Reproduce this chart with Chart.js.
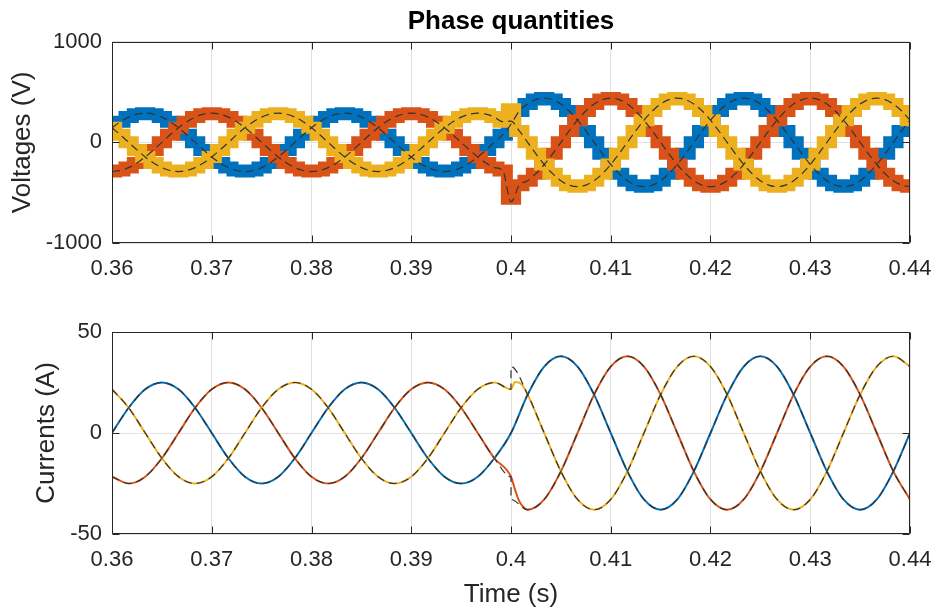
<!DOCTYPE html>
<html>
<head>
<meta charset="utf-8">
<title>Phase quantities</title>
<script src="https://cdn.jsdelivr.net/npm/chart.js@4.4.1/dist/chart.umd.min.js"></script>
<style>
  body { margin: 0; background: #fff; }
  #wrap { position: relative; width: 936px; height: 615px; }
  canvas { position: absolute; left: 0; }
  #voltChart { top: 0; }
  #currChart { top: 290px; }
</style>
</head>
<body>
<div id="wrap">
  <canvas id="voltChart" width="936" height="290"></canvas>
  <canvas id="currChart" width="936" height="325"></canvas>
</div>
<script>
// sample times for the voltages (s), 15 deg steps of the 50 Hz wave
const tV = [
  0.36, 0.36083, 0.36167, 0.3625, 0.36333, 0.36417, 0.365, 0.36583, 0.36667, 0.3675, 0.36833, 0.36917,
  0.37, 0.37083, 0.37167, 0.3725, 0.37333, 0.37417, 0.375, 0.37583, 0.37667, 0.3775, 0.37833, 0.37917,
  0.38, 0.38083, 0.38167, 0.3825, 0.38333, 0.38417, 0.385, 0.38583, 0.38667, 0.3875, 0.38833, 0.38917,
  0.39, 0.39083, 0.39167, 0.3925, 0.39333, 0.39417, 0.395, 0.39583, 0.39667, 0.3975, 0.39833, 0.39917,
  0.4, 0.40083, 0.40167, 0.4025, 0.40333, 0.40417, 0.405, 0.40583, 0.40667, 0.4075, 0.40833, 0.40917,
  0.41, 0.41083, 0.41167, 0.4125, 0.41333, 0.41417, 0.415, 0.41583, 0.41667, 0.4175, 0.41833, 0.41917,
  0.42, 0.42083, 0.42167, 0.4225, 0.42333, 0.42417, 0.425, 0.42583, 0.42667, 0.4275, 0.42833, 0.42917,
  0.43, 0.43083, 0.43167, 0.4325, 0.43333, 0.43417, 0.435, 0.43583, 0.43667, 0.4375, 0.43833, 0.43917,
  0.44
];

// inverter phase voltages (V)
const vA = [
  145, 205, 251, 280, 290, 280, 251, 205, 145, 75, 0, -75,
  -145, -205, -251, -280, -290, -280, -251, -205, -145, -75, 0, 75,
  145, 205, 251, 280, 290, 280, 251, 205, 145, 75, 0, -75,
  -145, -205, -251, -280, -290, -280, -251, -205, -145, -75, 0, 75,
  190, 311, 381, 425, 440, 425, 381, 311, 220, 114, 0, -114,
  -220, -311, -381, -425, -440, -425, -381, -311, -220, -114, 0, 114,
  220, 311, 381, 425, 440, 425, 381, 311, 220, 114, 0, -114,
  -220, -311, -381, -425, -440, -425, -381, -311, -220, -114, 0, 114,
  220
];
const vB = [
  -290, -280, -251, -205, -145, -75, 0, 75, 145, 205, 251, 280,
  290, 280, 251, 205, 145, 75, 0, -75, -145, -205, -251, -280,
  -290, -280, -251, -205, -145, -75, 0, 75, 145, 205, 251, 280,
  290, 280, 251, 205, 145, 75, 0, -75, -145, -205, -251, -280,
  -560, -425, -381, -311, -220, -114, 0, 114, 220, 311, 381, 425,
  440, 425, 381, 311, 220, 114, 0, -114, -220, -311, -381, -425,
  -440, -425, -381, -311, -220, -114, 0, 114, 220, 311, 381, 425,
  440, 425, 381, 311, 220, 114, 0, -114, -220, -311, -381, -425,
  -440
];
const vC = [
  145, 75, 0, -75, -145, -205, -251, -280, -290, -280, -251, -205,
  -145, -75, 0, 75, 145, 205, 251, 280, 290, 280, 251, 205,
  145, 75, 0, -75, -145, -205, -251, -280, -290, -280, -251, -205,
  -145, -75, 0, 75, 145, 205, 251, 280, 290, 280, 251, 205,
  330, 114, 0, -114, -220, -311, -381, -425, -440, -425, -381, -311,
  -220, -114, 0, 114, 220, 311, 381, 425, 440, 425, 381, 311,
  220, 114, 0, -114, -220, -311, -381, -425, -440, -425, -381, -311,
  -220, -114, 0, 114, 220, 311, 381, 425, 440, 425, 381, 311,
  220
];

// voltage references (V), dashed
const vRefA = [
  145, 205, 251, 280, 290, 280, 251, 205, 145, 75, 0, -75,
  -145, -205, -251, -280, -290, -280, -251, -205, -145, -75, 0, 75,
  145, 205, 251, 280, 290, 280, 251, 205, 145, 75, 0, -75,
  -145, -205, -251, -280, -290, -280, -251, -205, -145, -75, 0, 75,
  180, 311, 381, 425, 440, 425, 381, 311, 220, 114, 0, -114,
  -220, -311, -381, -425, -440, -425, -381, -311, -220, -114, 0, 114,
  220, 311, 381, 425, 440, 425, 381, 311, 220, 114, 0, -114,
  -220, -311, -381, -425, -440, -425, -381, -311, -220, -114, 0, 114,
  220
];
const vRefB = [
  -290, -280, -251, -205, -145, -75, 0, 75, 145, 205, 251, 280,
  290, 280, 251, 205, 145, 75, 0, -75, -145, -205, -251, -280,
  -290, -280, -251, -205, -145, -75, 0, 75, 145, 205, 251, 280,
  290, 280, 251, 205, 145, 75, 0, -75, -145, -205, -251, -280,
  -590, -425, -381, -311, -220, -114, 0, 114, 220, 311, 381, 425,
  440, 425, 381, 311, 220, 114, 0, -114, -220, -311, -381, -425,
  -440, -425, -381, -311, -220, -114, 0, 114, 220, 311, 381, 425,
  440, 425, 381, 311, 220, 114, 0, -114, -220, -311, -381, -425,
  -440
];
const vRefC = [
  145, 75, 0, -75, -145, -205, -251, -280, -290, -280, -251, -205,
  -145, -75, 0, 75, 145, 205, 251, 280, 290, 280, 251, 205,
  145, 75, 0, -75, -145, -205, -251, -280, -290, -280, -251, -205,
  -145, -75, 0, 75, 145, 205, 251, 280, 290, 280, 251, 205,
  210, 114, 0, -114, -220, -311, -381, -425, -440, -425, -381, -311,
  -220, -114, 0, 114, 220, 311, 381, 425, 440, 425, 381, 311,
  220, 114, 0, -114, -220, -311, -381, -425, -440, -425, -381, -311,
  -220, -114, 0, 114, 220, 311, 381, 425, 440, 425, 381, 311,
  220
];

// sample times for the currents (s), 30 deg steps plus the step at 0.4 s
const tI = [
  0.36, 0.36167, 0.36333, 0.365, 0.36667, 0.36833, 0.37, 0.37167, 0.37333, 0.375, 0.37667, 0.37833,
  0.38, 0.38167, 0.38333, 0.385, 0.38667, 0.38833, 0.39, 0.39167, 0.39333, 0.395, 0.39667, 0.39833,
  0.4, 0.4, 0.4004, 0.4008, 0.4012,
  0.40167, 0.40333, 0.405, 0.40667, 0.40833, 0.41, 0.41167, 0.41333, 0.415, 0.41667, 0.41833, 0.42,
  0.42167, 0.42333, 0.425, 0.42667, 0.42833, 0.43, 0.43167, 0.43333, 0.435, 0.43667, 0.43833, 0.44
];

// phase currents (A)
const iA = [
  0, 12.5, 21.65, 25, 21.65, 12.5, 0, -12.5, -21.65, -25, -21.65, -12.5,
  0, 12.5, 21.65, 25, 21.65, 12.5, 0, -12.5, -21.65, -25, -21.65, -12.5,
  0, null, null, null, null,
  19, 32.9, 38, 32.9, 19, 0, -19, -32.9, -38, -32.9, -19, 0,
  19, 32.9, 38, 32.9, 19, 0, -19, -32.9, -38, -32.9, -19, 0
];
const iB = [
  -21.65, -25, -21.65, -12.5, 0, 12.5, 21.65, 25, 21.65, 12.5, 0, -12.5,
  -21.65, -25, -21.65, -12.5, 0, 12.5, 21.65, 25, 21.65, 12.5, 0, -12.5,
  -21.65, null, -28, -33.5, -36.5,
  -38, -32.9, -19, 0, 19, 32.9, 38, 32.9, 19, 0, -19, -32.9,
  -38, -32.9, -19, 0, 19, 32.9, 38, 32.9, 19, 0, -19, -32.9
];
const iC = [
  21.65, 12.5, 0, -12.5, -21.65, -25, -21.65, -12.5, 0, 12.5, 21.65, 25,
  21.65, 12.5, 0, -12.5, -21.65, -25, -21.65, -12.5, 0, 12.5, 21.65, 25,
  21.65, null, 25.2, 25.0, 23.2,
  19, 0, -19, -32.9, -38, -32.9, -19, 0, 19, 32.9, 38, 32.9,
  19, 0, -19, -32.9, -38, -32.9, -19, 0, 19, 32.9, 38, 32.9
];

// current references (A), dashed
const iRefA = [
  0, 12.5, 21.65, 25, 21.65, 12.5, 0, -12.5, -21.65, -25, -21.65, -12.5,
  0, 12.5, 21.65, 25, 21.65, 12.5, 0, -12.5, -21.65, -25, -21.65, -12.5,
  0, null, null, null, null,
  19, 32.9, 38, 32.9, 19, 0, -19, -32.9, -38, -32.9, -19, 0,
  19, 32.9, 38, 32.9, 19, 0, -19, -32.9, -38, -32.9, -19, 0
];
const iRefB = [
  -21.65, -25, -21.65, -12.5, 0, 12.5, 21.65, 25, 21.65, 12.5, 0, -12.5,
  -21.65, -25, -21.65, -12.5, 0, 12.5, 21.65, 25, 21.65, 12.5, 0, -12.5,
  -21.65, -32.9, null, null, null,
  -38, -32.9, -19, 0, 19, 32.9, 38, 32.9, 19, 0, -19, -32.9,
  -38, -32.9, -19, 0, 19, 32.9, 38, 32.9, 19, 0, -19, -32.9
];
const iRefC = [
  21.65, 12.5, 0, -12.5, -21.65, -25, -21.65, -12.5, 0, 12.5, 21.65, 25,
  21.65, 12.5, 0, -12.5, -21.65, -25, -21.65, -12.5, 0, 12.5, 21.65, 25,
  21.65, 32.9, null, null, null,
  19, 0, -19, -32.9, -38, -32.9, -19, 0, 19, 32.9, 38, 32.9,
  19, 0, -19, -32.9, -38, -32.9, -19, 0, 19, 32.9, 38, 32.9
];

const xTicks = [0.36, 0.37, 0.38, 0.39, 0.4, 0.41, 0.42, 0.43, 0.44];
const vTicks = [-1000, 0, 1000];
const iTicks = [-50, 0, 50];

const BLUE = '#0072BD', ORANGE = '#D95319', YELLOW = '#EDB120';
const REF = '#333333', AXIS = '#262626', GRID = '#e1e1e1';

Chart.defaults.font.family = '"Liberation Sans", Arial, Helvetica, sans-serif';
Chart.defaults.color = AXIS;

function pts(ts, vs) {
  return ts.map((t, i) => ({ x: t, y: vs[i] }));
}

// matlab style box with inward ticks, drawn over the data
const axesBox = {
  id: 'axesBox',
  afterDatasetsDraw(chart) {
    const { ctx, chartArea: a, scales } = chart;
    const L = Math.round(a.left) + 0.5, R = Math.round(a.right) - 0.5;
    const T = Math.round(a.top) + 0.5, B = Math.round(a.bottom) - 0.5;
    ctx.save();
    ctx.strokeStyle = AXIS;
    ctx.lineWidth = 1;
    ctx.beginPath();
    scales.x.ticks.forEach(t => {
      const px = Math.round(scales.x.getPixelForValue(t.value)) + 0.5;
      ctx.moveTo(px, T); ctx.lineTo(px, T + 7);
      ctx.moveTo(px, B); ctx.lineTo(px, B - 7);
    });
    scales.y.ticks.forEach(t => {
      const py = Math.round(scales.y.getPixelForValue(t.value)) + 0.5;
      ctx.moveTo(L, py); ctx.lineTo(L + 7, py);
      ctx.moveTo(R, py); ctx.lineTo(R - 7, py);
    });
    ctx.rect(L, T, R - L, B - T);
    ctx.stroke();
    ctx.restore();
  }
};

function options(cfg) {
  return {
    responsive: false,
    devicePixelRatio: 1,
    animation: false,
    events: [],
    layout: { autoPadding: false, padding: { left: 0, right: 26, top: cfg.padTop, bottom: 0 } },
    elements: { point: { radius: 0 } },
    plugins: {
      legend: { display: false },
      tooltip: { enabled: false },
      title: cfg.title || { display: false }
    },
    scales: {
      x: {
        type: 'linear', min: 0.36, max: 0.44,
        afterBuildTicks: s => { s.ticks = xTicks.map(v => ({ value: v })); },
        afterFit: s => { s.height = cfg.xHeight; s.paddingLeft = 0; s.paddingRight = 0; },
        grid: { color: GRID, drawTicks: false },
        border: { display: false },
        ticks: {
          color: AXIS, font: { size: 22 }, padding: 12.5, maxRotation: 0, autoSkip: false,
          callback: v => String(Math.round(v * 100) / 100)
        },
        title: cfg.xTitle
          ? { display: true, text: cfg.xTitle, color: AXIS, font: { size: 26 }, padding: { top: 0, bottom: 4.4 } }
          : { display: false }
      },
      y: {
        type: 'linear', min: cfg.yTicks[0], max: cfg.yTicks[cfg.yTicks.length - 1],
        afterBuildTicks: s => { s.ticks = cfg.yTicks.map(v => ({ value: v })); },
        afterFit: s => { s.width = 112; s.paddingTop = 0; s.paddingBottom = 0; },
        grid: { color: GRID, drawTicks: false },
        border: { display: false },
        ticks: { color: AXIS, font: { size: 22 }, padding: 10, callback: v => String(v) },
        title: { display: true, text: cfg.yTitle, color: AXIS, font: { size: 26 }, padding: { top: cfg.yTitlePad, bottom: 0 } }
      }
    }
  };
}

function band(vals, color, order) {
  return { data: pts(tV, vals), borderColor: color, borderWidth: 12, stepped: 'middle',
           borderJoinStyle: 'miter', borderCapStyle: 'butt', order, clip: 0 };
}
function wave(vals, color, order) {
  return { data: pts(tI, vals), borderColor: color, borderWidth: 2, cubicInterpolationMode: 'monotone',
           spanGaps: true, order, clip: 0 };
}
function ref(ts, vals) {
  return { data: pts(ts, vals), borderColor: REF, borderWidth: 1.2, borderDash: [8, 5],
           cubicInterpolationMode: 'monotone', spanGaps: true, order: 1, clip: 0 };
}

new Chart(document.getElementById('voltChart'), {
  type: 'line',
  data: {
    datasets: [
      ref(tV, vRefA), ref(tV, vRefB), ref(tV, vRefC),
      band(vC, YELLOW, 2), band(vB, ORANGE, 3), band(vA, BLUE, 4)
    ]
  },
  options: options({
    padTop: 0, xHeight: 47, yTicks: vTicks, yTitle: 'Voltages (V)', yTitlePad: 7,
    title: { display: true, text: 'Phase quantities', color: '#000', fullSize: false,
             font: { size: 26, weight: 'bold' }, padding: { top: 6.5, bottom: 4 } }
  }),
  plugins: [axesBox]
});

new Chart(document.getElementById('currChart'), {
  type: 'line',
  data: {
    datasets: [
      ref(tI, iRefA), ref(tI, iRefB), ref(tI, iRefC),
      wave(iC, YELLOW, 2), wave(iB, ORANGE, 3), wave(iA, BLUE, 4)
    ]
  },
  options: options({
    padTop: 42, xHeight: 81, yTicks: iTicks, yTitle: 'Currents (A)', yTitlePad: 31, xTitle: 'Time (s)'
  }),
  plugins: [axesBox]
});
</script>
</body>
</html>
